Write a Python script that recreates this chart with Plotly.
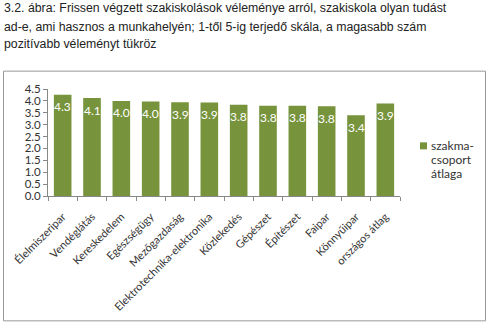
import plotly.graph_objects as go

categories = ["Élelmiszeripar", "Vendéglátás", "Kereskedelem", "Egészségügy",
              "Mezőgazdaság", "Elektrotechnika-elektronika", "Közlekedés",
              "Gépészet", "Építészet", "Faipar", "Könnyűipar", "országos átlag"]
values = [4.26, 4.12, 4.0, 3.97, 3.94, 3.93, 3.84, 3.8, 3.8, 3.77, 3.4, 3.89]
legend_lines = ["szakma-", "csoport", "átlaga"]
title_lines = [
    "3.2. ábra: Frissen végzett szakiskolások véleménye arról, szakiskola olyan tudást",
    "ad-e, ami hasznos a munkahelyén; 1-től 5-ig terjedő skála, a magasabb szám",
    "pozitívabb véleményt tükröz",
]
yticks = [0, 0.5, 1.0, 1.5, 2.0, 2.5, 3.0, 3.5, 4.0, 4.5]

W, H = 490, 326
L, R, T, B = 48, 400, 89.3, 196
def px2x(p): return (p - L) / (R - L)
def px2y(p): return (B - p) / (B - T)

GREEN = "#77933C"
FONT = "Lato"

fig = go.Figure(go.Bar(
    x=categories, y=values, name="".join(legend_lines),
    marker=dict(color=GREEN, line=dict(width=0)),
    showlegend=False,
))

# value labels inside the bars, a little below the bar tops
for c, v in zip(categories, values):
    fig.add_annotation(x=c, y=v, text=f"{v:.1f}", showarrow=False,
                       xanchor="center", yanchor="middle", yshift=-12,
                       font=dict(color="white", size=12, family=FONT))

fig.update_layout(
    width=W, height=H,
    margin=dict(l=L, r=W - R, t=T, b=H - B),
    paper_bgcolor="white", plot_bgcolor="white",
    bargap=0.4,
    font=dict(family=FONT, size=11, color="#333"),
    xaxis=dict(tickangle=-45, tickson="boundaries", ticks="outside", ticklen=4,
               tickcolor="#888", showline=True, linecolor="#888", linewidth=1,
               ticklabelstandoff=9,
               tickfont=dict(family=FONT, size=11, color="#333"), showgrid=False),
    yaxis=dict(range=[0, 4.5], tickvals=yticks, tickformat=".1f",
               ticks="outside", ticklen=4, tickcolor="#888", showline=True,
               linecolor="#888", linewidth=1, showgrid=False, zeroline=False,
               tickfont=dict(family=FONT, size=11.5, color="#333")),
    showlegend=False,
)

# outer chart border
fig.add_shape(type="rect", xref="paper", yref="paper",
              x0=px2x(3.5), x1=px2x(485.5), y0=px2y(320.5), y1=px2y(71.5),
              line=dict(color="#999", width=1), fillcolor="rgba(0,0,0,0)", layer="below")

# legend (symbol + wrapped label)
fig.add_shape(type="rect", xref="paper", yref="paper",
              x0=px2x(420), x1=px2x(427), y0=px2y(149.5), y1=px2y(142.5),
              line=dict(width=0), fillcolor=GREEN)
for line, yc in zip(legend_lines, [146, 160, 174]):
    fig.add_annotation(text=line, xref="paper", yref="paper", x=px2x(429), y=px2y(yc),
                       xanchor="left", yanchor="middle", showarrow=False,
                       font=dict(family=FONT, size=12, color="#333"))

for line, yc in zip(title_lines, [9, 27, 44]):
    fig.add_annotation(text=line, xref="paper", yref="paper", x=px2x(2), y=px2y(yc),
                       xanchor="left", yanchor="middle", showarrow=False,
                       font=dict(family="Liberation Sans", size=12.3, color="#222"))

fig.write_html("out.html")
